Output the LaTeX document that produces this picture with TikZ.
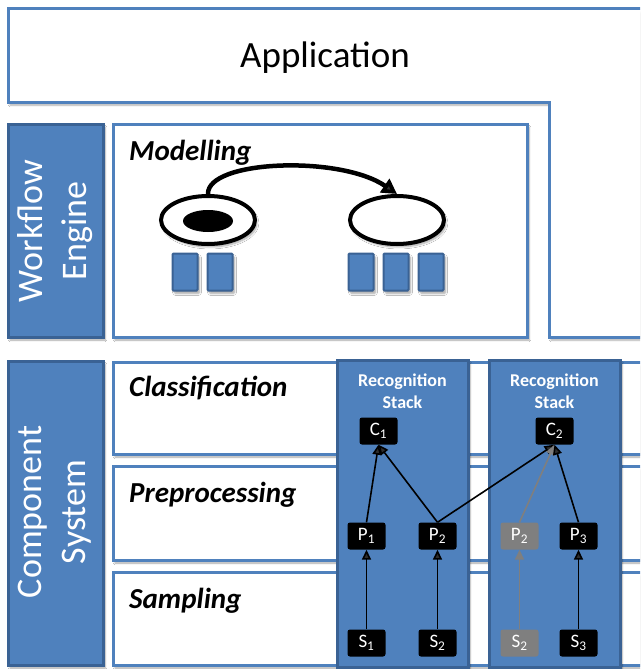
\documentclass[tikz,border=0pt]{standalone}
\usepackage{fontspec}
\setmainfont{Carlito}
\usetikzlibrary{shadows.blur,arrows.meta,shapes.geometric}
\definecolor{bfill}{RGB}{79,129,189}
\definecolor{bdark}{RGB}{58,98,148}
\definecolor{bline}{RGB}{79,129,189}
\definecolor{gnode}{RGB}{127,127,127}
\tikzset{
  shad/.style={blur shadow={shadow xshift=2pt, shadow yshift=-3pt, shadow blur steps=6, shadow opacity=35}},
  whitebox/.style={draw=bline, line width=3pt, fill=white, shad},
  bluebox/.style={draw=bdark, line width=3pt, fill=bfill, shad},
  sidetext/.style={text=white, rotate=90, align=center, font=\fontsize{36}{44}\selectfont},
  layertext/.style={anchor=base west, inner sep=0pt, font=\fontsize{29}{34}\selectfont\bfseries\itshape},
  stacktext/.style={text=white, align=center, font=\fontsize{18}{22}\selectfont\bfseries},
  comp/.style={fill=black, rounded corners=2.5pt, minimum width=38pt, minimum height=27pt, inner sep=0pt, text=white, font=\fontsize{19}{21}\selectfont},
  gcomp/.style={comp, fill=gnode},
  arr/.style={-{Triangle[width=9pt,length=10pt]}, line width=1.6pt},
  garr/.style={arr, draw=gnode},
  sq/.style={draw=bdark, fill=bfill, line width=2pt, rounded corners=1pt, minimum width=25pt, minimum height=37pt, inner sep=0pt, shad},
  ell/.style={ellipse, draw=black, line width=4pt, fill=white, minimum width=94pt, minimum height=48pt, inner sep=0pt, shad},
}
\begin{document}
\begin{tikzpicture}[x=1pt,y=-1pt]
\clip (0,0) rectangle (640,669);
\fill[white] (0,0) rectangle (640,669);
% Application
\draw[whitebox] (8,9) -- (660,9) -- (660,337) -- (549,337) -- (549,102) -- (8,102) -- cycle;
\node[font=\fontsize{37}{44}\selectfont, anchor=base] (app) at (325,67) {Application};
% Workflow engine
\draw[bluebox] (8,124) rectangle (103,337);
\node[sidetext] (wftext) at (55,231) {Workflow\\Engine};
\draw[whitebox] (113,124) rectangle (527,337);
\node[layertext] (modtext) at (129,160) {Modelling};
\node[ell] (e1) at (208,220) {};
\node[ellipse, fill=black, minimum width=50pt, minimum height=22pt, inner sep=0pt] (e1in) at (208,221) {};
\node[ell] (e2) at (397,220) {};
\draw[line width=4.5pt, -{Triangle[width=16pt,length=15pt]}] (e1.north) .. controls (207,160) and (340,155) .. (e2.north);
\node[sq] (m1) at (185,272) {};
\node[sq] (m2) at (220,272) {};
\node[sq] (m3) at (361,272) {};
\node[sq] (m4) at (396,272) {};
\node[sq] (m5) at (431,272) {};
% Component system
\draw[bluebox] (8,361) rectangle (103,665);
\node[sidetext] (cstext) at (55,512) {Component\\System};
\draw[whitebox] (113,362) rectangle (660,454);
\draw[whitebox] (113,466) rectangle (660,560);
\draw[whitebox] (113,572) rectangle (660,665);
\node[layertext] (cltext) at (129,396) {Classification};
\node[layertext] (pptext) at (129,502) {Preprocessing};
\node[layertext] (satext) at (129,608) {Sampling};
% Recognition stacks
\draw[bluebox] (337,360) rectangle (468,667);
\draw[bluebox] (489,360) rectangle (620,667);
\node[stacktext] (st1) at (402.5,391) {Recognition\\Stack};
\node[stacktext] (st2) at (554.5,391) {Recognition\\Stack};
\node[comp] (C1) at (378.5,431) {C\textsubscript{1}};
\node[comp] (C2) at (554.5,431) {C\textsubscript{2}};
\node[comp] (P1) at (366.5,536) {P\textsubscript{1}};
\node[comp] (P2) at (437.5,536) {P\textsubscript{2}};
\node[gcomp] (P2g) at (519.5,536) {P\textsubscript{2}};
\node[comp] (P3) at (578.5,536) {P\textsubscript{3}};
\node[comp] (S1) at (366.5,643) {S\textsubscript{1}};
\node[comp] (S2) at (437.5,643) {S\textsubscript{2}};
\node[gcomp] (S2g) at (519.5,643) {S\textsubscript{2}};
\node[comp] (S3) at (578.5,643) {S\textsubscript{3}};
\draw[arr] (S1) -- (P1);
\draw[arr] (S2) -- (P2);
\draw[garr] (S2g) -- (P2g);
\draw[arr] (S3) -- (P3);
\draw[arr] (P1.north) -- (C1.south);
\draw[arr] (P2.north) -- (C1.south);
\draw[arr] (P2.north) -- (C2.south);
\draw[garr] (P2g.north) -- (C2.south);
\draw[arr] (P3.north) -- (C2.south);
\end{tikzpicture}
\end{document}
